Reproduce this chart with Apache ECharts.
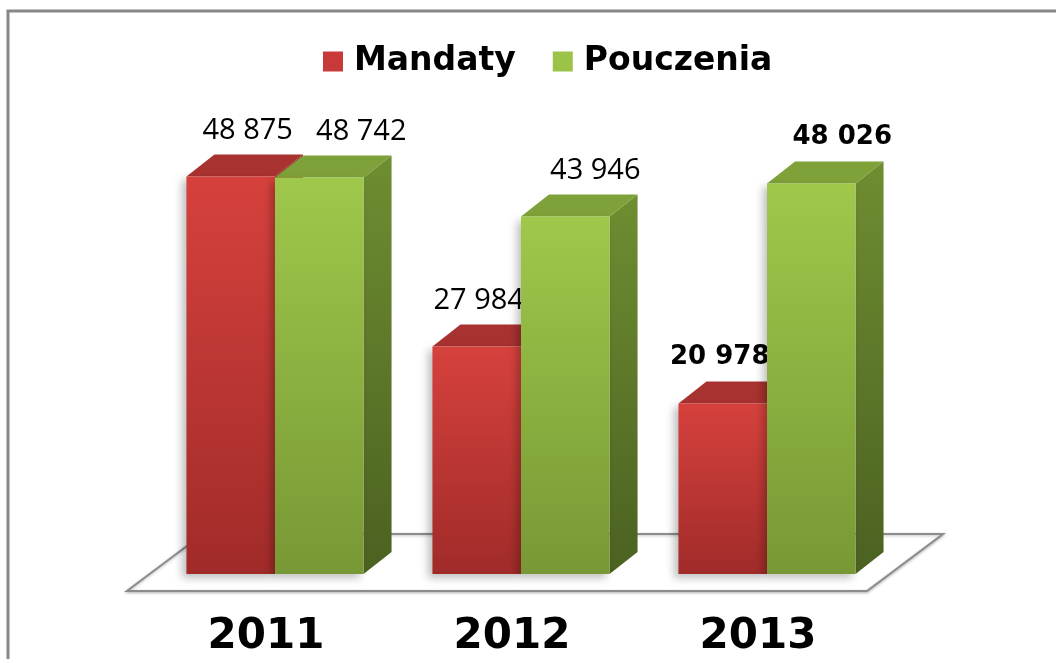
<!DOCTYPE html>
<html>
<head>
<meta charset="utf-8">
<title>Mandaty / Pouczenia</title>
<script src="https://cdn.jsdelivr.net/npm/echarts@6/dist/echarts.min.js"></script>
<style>
  html, body { margin: 0; padding: 0; background: #fff; }
  #main { width: 1056px; height: 659px; }
</style>
</head>
<body>
<div id="main"></div>
<script>
// dane
var years = ['2011', '2012', '2013'];
var mandaty = [48875, 27984, 20978];
var pouczenia = [48742, 43946, 48026];
var seriesNames = ['Mandaty', 'Pouczenia'];

// styl etykiet (przesuniecie w poziomie, pogrubienie)
var labelShift = [[17, 2, -3], [42, 30, 31]];
var labelBold = [false, false, true];

var palette = [
  { front: ['#d6413d', '#a02b29'], top: '#a83230', side: ['#8c2624', '#6e1d1c'], legend: '#c8393a' },
  { front: ['#9fc84b', '#789835'], top: '#7fa139', side: ['#6e8e31', '#4b6121'], legend: '#9bc347' }
];

function fmt(v) {
  return String(v).replace(/\B(?=(\d{3})+(?!\d))/g, ' ');
}

function grad(c) {
  return new echarts.graphic.LinearGradient(0, 0, 0, 1, [
    { offset: 0, color: c[0] }, { offset: 1, color: c[1] }
  ]);
}

function makeRender(idx) {
  var col = palette[idx];
  return function (params, api) {
    var cat = api.value(0);
    var val = api.value(1);
    var base = api.coord([cat, 0]);
    var top = api.coord([cat, val]);
    var band = api.size([1, 0])[0];
    var w = band * 0.36;
    var x0 = idx === 0 ? base[0] - w : base[0];
    var x1 = x0 + w;
    var yT = top[1], yB = base[1];
    var dx = 28, dy = -22;
    var bold = labelBold[cat];
    return {
      type: 'group',
      children: [
        {
          type: 'polygon',
          shape: { points: [[x1, yT], [x1 + dx, yT + dy], [x1 + dx, yB + dy], [x1, yB]] },
          style: { fill: grad(col.side) }
        },
        {
          type: 'polygon',
          shape: { points: [[x0, yT], [x1, yT], [x1 + dx, yT + dy], [x0 + dx, yT + dy]] },
          style: { fill: col.top }
        },
        {
          type: 'rect',
          shape: { x: x0, y: yT, width: w, height: yB - yT },
          style: {
            fill: grad(col.front),
            shadowColor: 'rgba(0,0,0,0.25)', shadowBlur: 8, shadowOffsetX: -4, shadowOffsetY: 4
          }
        },
        {
          type: 'text',
          x: (x0 + x1) / 2 + labelShift[idx][cat],
          y: yT - 46,
          style: {
            text: fmt(val),
            align: 'center',
            verticalAlign: 'middle',
            fill: '#000',
            font: bold ? 'bold 26px "DejaVu Sans"' : '29px "Open Sans"'
          }
        }
      ]
    };
  };
}

var myChart = echarts.init(document.getElementById('main'));
var option = {
  animation: false,
  backgroundColor: '#fff',
  legend: {
    left: 318,
    top: 40,
    itemWidth: 20,
    itemHeight: 20,
    itemGap: 37,
    icon: 'rect',
    data: seriesNames,
    textStyle: { fontFamily: 'DejaVu Sans', fontWeight: 'bold', fontSize: 33, color: '#000', padding: [0, 0, 0, 6] }
  },
  grid: { left: 152, right: 166, top: 86, bottom: 85 },
  xAxis: {
    type: 'category',
    data: years,
    axisLine: { show: false },
    axisTick: { show: false },
    axisLabel: {
      margin: 42,
      padding: [0, 18, 0, 0],
      fontFamily: 'DejaVu Sans', fontWeight: 'bold', fontSize: 42, color: '#000'
    }
  },
  yAxis: { type: 'value', min: 0, max: 60000, show: false },
  graphic: [
    {
      type: 'rect', z: -10, silent: true,
      shape: { x: 8, y: 11, width: 1100, height: 700 },
      style: { fill: 'none', stroke: '#878787', lineWidth: 3 }
    },
    {
      type: 'polygon', z: -5, silent: true,
      shape: { points: [[127, 591], [867, 591], [943, 534], [203, 534]] },
      style: { fill: '#fff', stroke: '#8c8c8c', lineWidth: 2, shadowColor: 'rgba(0,0,0,0.25)', shadowBlur: 3, shadowOffsetY: 1 }
    }
  ],
  series: [
    {
      name: seriesNames[0],
      type: 'custom',
      renderItem: makeRender(0),
      itemStyle: { color: palette[0].legend },
      data: mandaty.map(function (v, i) { return [i, v]; })
    },
    {
      name: seriesNames[1],
      type: 'custom',
      renderItem: makeRender(1),
      itemStyle: { color: palette[1].legend },
      data: pouczenia.map(function (v, i) { return [i, v]; })
    }
  ]
};
myChart.setOption(option);
</script>
</body>
</html>
